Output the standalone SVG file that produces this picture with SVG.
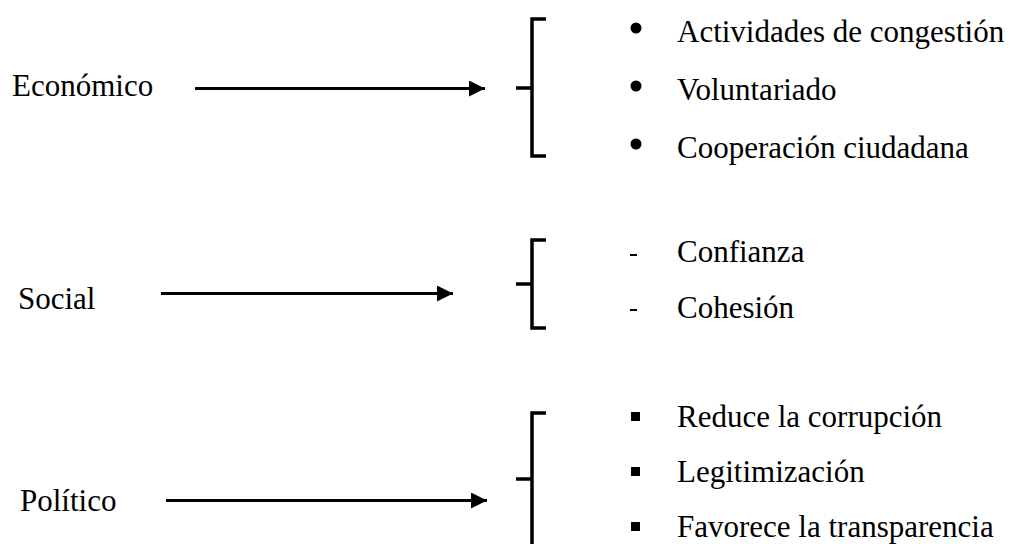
<svg xmlns="http://www.w3.org/2000/svg" width="1017" height="544" viewBox="0 0 1017 544">
<defs>
<style>
text{font-family:"Liberation Serif","Times New Roman",serif;font-size:31px;fill:#000}
.br{fill:none;stroke:#000;stroke-width:3.5;stroke-linejoin:miter}
.ar{stroke:#000;stroke-width:3.2;fill:none}
</style>
<marker id="ah" markerWidth="16" markerHeight="16" viewBox="0 0 16 16" refX="16" refY="8" orient="auto" markerUnits="userSpaceOnUse">
<path d="M0,0 L16,8 L0,16 Z" fill="#000"/>
</marker>
</defs>
<rect width="1017" height="544" fill="#fff"/>
<g id="economico">
<text x="12" y="96">Económico</text>
</g>
<g id="social">
<text x="18" y="309">Social</text>
</g>
<g id="politico">
<text x="20" y="511">Político</text>
</g>
<g id="connectors">
<line class="ar" x1="195" y1="88.5" x2="485" y2="88.5" marker-end="url(#ah)"/>
<line class="ar" x1="161" y1="293.5" x2="453" y2="293.5" marker-end="url(#ah)"/>
<line class="ar" x1="166" y1="500.5" x2="487" y2="500.5" marker-end="url(#ah)"/>
</g>
<g id="grupo-economico">
<path class="br" d="M546,19 H532 V156 H546 M516,88 H532"/>
<circle cx="636" cy="28" r="5.5"/>
<circle cx="636" cy="86" r="5.5"/>
<circle cx="636" cy="144" r="5.5"/>
<text x="677" y="42">Actividades de congestión</text>
<text x="677" y="100">Voluntariado</text>
<text x="677" y="158">Cooperación ciudadana</text>
</g>
<g id="grupo-social">
<path class="br" d="M546,240 H532 V328 H546 M516,284 H532"/>
<rect x="630" y="254" width="7" height="2"/>
<rect x="630" y="309" width="7" height="2"/>
<text x="677" y="262">Confianza</text>
<text x="677" y="318">Cohesión</text>
</g>
<g id="grupo-politico">
<path class="br" d="M546,413 H532 V544 M516,479 H532"/>
<rect x="631" y="412" width="9" height="9"/>
<rect x="631" y="467" width="9" height="9"/>
<rect x="631" y="522" width="9" height="9"/>
<text x="677" y="427">Reduce la corrupción</text>
<text x="677" y="482">Legitimización</text>
<text x="677" y="537">Favorece la transparencia</text>
</g>
</svg>
